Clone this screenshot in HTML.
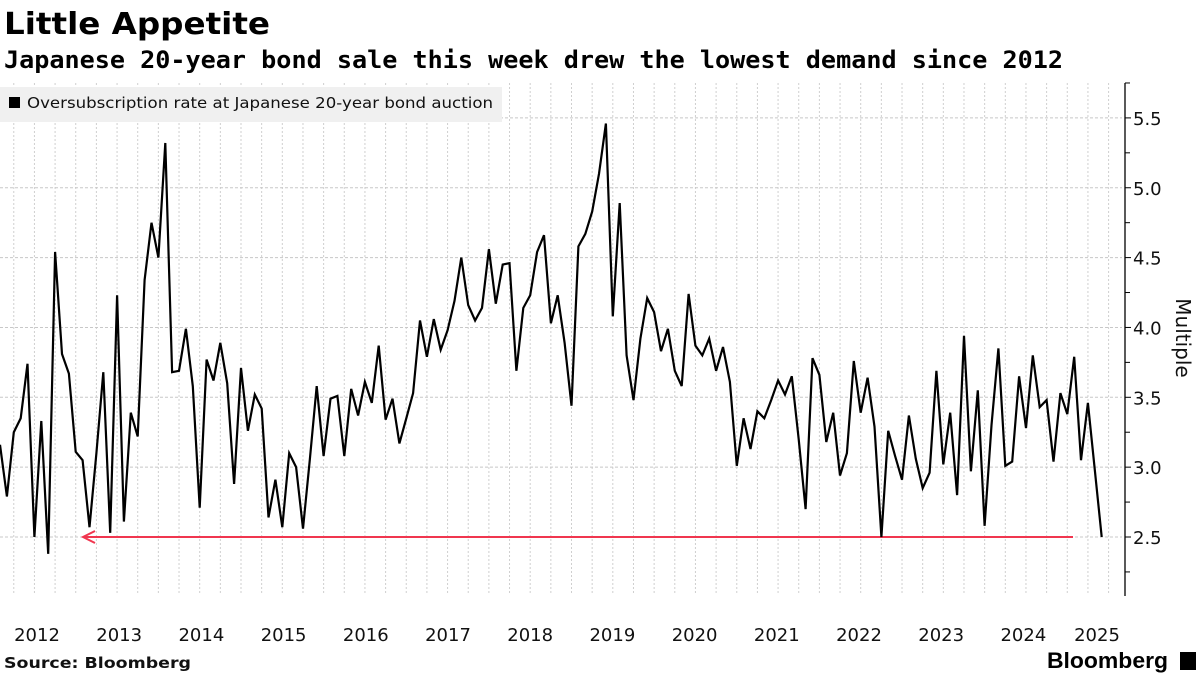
<!DOCTYPE html>
<html><head><meta charset="utf-8"><style>
body{margin:0;background:#fff;width:1200px;height:675px;overflow:hidden;font-family:"DejaVu Sans","Liberation Sans",sans-serif}
</style></head><body>
<svg id="chart" width="1200" height="675" xmlns="http://www.w3.org/2000/svg" font-family="DejaVu Sans, Liberation Sans, sans-serif">
<text x="4" y="34" font-family="DejaVu Sans, sans-serif" font-weight="bold" font-size="30" textLength="266" lengthAdjust="spacingAndGlyphs">Little Appetite</text>
<text x="4" y="68" font-family="DejaVu Sans Mono, Liberation Mono, monospace" font-weight="bold" font-size="24" textLength="1059" lengthAdjust="spacingAndGlyphs">Japanese 20-year bond sale this week drew the lowest demand since 2012</text>
<g id="grid"></g>
<g id="axis"></g>
<g id="marks"></g>
<g>
<rect x="0" y="87" width="502" height="35" fill="#f0f0f0"/>
<rect x="9" y="97" width="11" height="11" fill="#000"/>
<text x="27" y="108" font-size="15" fill="#111" textLength="466" lengthAdjust="spacingAndGlyphs">Oversubscription rate at Japanese 20-year bond auction</text>
</g>
<text x="4" y="668" font-weight="bold" font-size="15" fill="#111" textLength="187" lengthAdjust="spacingAndGlyphs">Source: Bloomberg</text>
<text x="1047" y="668" font-family="Liberation Sans, sans-serif" font-weight="bold" font-size="22" fill="#000" textLength="121" lengthAdjust="spacingAndGlyphs">Bloomberg</text>
<rect x="1180" y="652" width="16" height="18" fill="#000"/>
</svg>
<script>
const values=[3.16,2.79,3.25,3.35,3.74,2.50,3.33,2.38,4.54,3.81,3.67,3.11,3.05,2.57,3.10,3.68,2.53,4.23,2.61,3.39,3.22,4.34,4.75,4.50,5.32,3.68,3.69,3.99,3.58,2.71,3.77,3.62,3.89,3.60,2.88,3.71,3.26,3.52,3.42,2.64,2.91,2.57,3.10,3.00,2.56,3.06,3.58,3.08,3.49,3.51,3.08,3.56,3.37,3.61,3.46,3.87,3.34,3.49,3.17,3.35,3.53,4.05,3.79,4.06,3.84,3.98,4.19,4.50,4.16,4.05,4.14,4.56,4.17,4.45,4.46,3.69,4.14,4.23,4.54,4.66,4.03,4.23,3.89,3.44,4.58,4.67,4.83,5.10,5.46,4.08,4.89,3.80,3.48,3.92,4.21,4.11,3.83,3.99,3.69,3.58,4.24,3.87,3.80,3.92,3.69,3.86,3.61,3.01,3.35,3.13,3.40,3.35,3.48,3.62,3.52,3.65,3.20,2.70,3.78,3.66,3.18,3.39,2.94,3.10,3.76,3.39,3.64,3.29,2.50,3.26,3.08,2.91,3.37,3.06,2.85,2.96,3.69,3.02,3.39,2.80,3.94,2.97,3.55,2.58,3.30,3.85,3.01,3.04,3.65,3.28,3.80,3.43,3.48,3.04,3.53,3.38,3.79,3.05,3.46,2.98,2.50];
const yTicks=[2.5,3.0,3.5,4.0,4.5,5.0,5.5];
const yearLabels=["2012","2013","2014","2015","2016","2017","2018","2019","2020","2021","2022","2023","2024","2025"];
const refValue=2.5;
const NS="http://www.w3.org/2000/svg";
const step=1101.7/160;
const xS=i=>i*step;
const yS=v=>537-(v-2.5)*139.7;
const plotR=1122;
function mk(tag,attrs,parent){const e=document.createElementNS(NS,tag);for(const k in attrs)e.setAttribute(k,attrs[k]);document.getElementById(parent).appendChild(e);return e;}
for(let i=2;xS(i)<plotR;i+=3){
 const g=mk('line',{x1:xS(i),x2:xS(i),y1:83,y2:595,stroke:'#cfcfcf','stroke-dasharray':'2,2','stroke-width':1},'grid');
 
 
}
yTicks.forEach(t=>{
 const g=mk('line',{x1:0,x2:plotR,y1:yS(t),y2:yS(t),stroke:'#c8c8c8','stroke-dasharray':'3,2','stroke-width':1},'grid');
 
 
 const tk=mk('line',{x1:1125,x2:1131,y1:yS(t),y2:yS(t),stroke:'#000','stroke-width':1},'axis');
 
 
 const lb=mk('text',{x:1133,y:yS(t)+7,'font-size':18,fill:'#111'},'axis');
 lb.textContent=t.toFixed(1);
 
 
});
for(let v=2.25;v<=5.75;v+=0.5){
 const tk=mk('line',{x1:1125,x2:1130,y1:yS(v),y2:yS(v),stroke:'#000','stroke-width':1},'axis');
 
 
}
const ax=mk('line',{x1:1125,x2:1125,y1:83,y2:596,stroke:'#000','stroke-width':1.3},'axis');


const yt=mk('text',{x:0,y:0,'font-size':20,fill:'#111',transform:'translate(1176,338) rotate(90)','text-anchor':'middle'},'axis');
yt.textContent='Multiple';


yearLabels.forEach((y,k)=>{
 const x=Math.min(37+k*82.2,1097);
 const t=mk('text',{x:x,y:641,'font-size':18,fill:'#111','text-anchor':'middle'},'axis');
 t.textContent=y;
 
 
});
const ry=yS(refValue);
const rl=mk('line',{x1:83,x2:1073,y1:ry,y2:ry,stroke:'#f0364f','stroke-width':2},'marks');


const ah=mk('polyline',{points:`95,${ry-6} 83,${ry} 95,${ry+6}`,fill:'none',stroke:'#f0364f','stroke-width':2},'marks');


const pts=values.map((v,i)=>xS(i).toFixed(1)+','+yS(v).toFixed(1)).join(' ');
const ln=mk('polyline',{points:pts,fill:'none',stroke:'#000','stroke-width':2.2,'stroke-linejoin':'miter'},'marks');


</script>
</body></html>
